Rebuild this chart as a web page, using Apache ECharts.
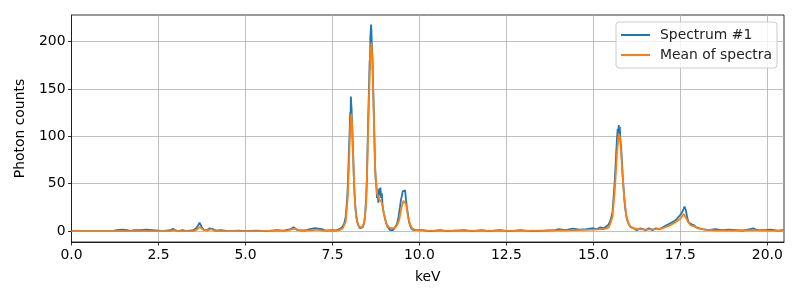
<!DOCTYPE html>
<html>
<head>
<meta charset="utf-8">
<script src="https://cdn.jsdelivr.net/npm/echarts@6/dist/echarts.min.js"></script>
<style>html,body{margin:0;padding:0;background:#fff}#c{width:800px;height:300px}</style>
</head>
<body>
<div id="c"></div>
<script>
const xTicks = [0, 2.5, 5, 7.5, 10, 12.5, 15, 17.5, 20];
const yTicks = [0, 50, 100, 150, 200];

const specKev = [0.0,0.45,0.46,0.47,1.1,1.15,1.2,1.3,1.35,1.45,1.5,1.6,1.7,1.8,1.85,2.0,2.05,2.15,2.2,2.5,2.6,2.85,2.92,2.98,3.05,3.2,3.3,3.5,3.58,3.64,3.68,3.72,3.76,3.82,3.9,3.97,4.02,4.07,4.15,4.3,4.5,4.8,5.0,5.3,5.6,5.9,6.1,6.3,6.38,6.43,6.5,6.7,6.85,6.9,7.0,7.05,7.2,7.3,7.5,7.6,7.7,7.78,7.84,7.88,7.92,7.95,7.97,7.99,8.01,8.02,8.03,8.04,8.05,8.06,8.07,8.08,8.10,8.12,8.14,8.16,8.18,8.21,8.25,8.29,8.33,8.37,8.41,8.44,8.47,8.49,8.51,8.53,8.55,8.57,8.58,8.59,8.60,8.61,8.62,8.63,8.64,8.65,8.66,8.68,8.70,8.72,8.74,8.76,8.78,8.80,8.82,8.84,8.86,8.88,8.90,8.92,8.94,8.97,9.0,9.04,9.08,9.12,9.16,9.2,9.24,9.28,9.32,9.36,9.40,9.44,9.47,9.50,9.52,9.55,9.57,9.59,9.61,9.64,9.67,9.70,9.74,9.78,9.85,9.9,10.1,10.3,10.6,10.8,11.0,11.3,11.5,11.8,12.0,12.3,12.6,12.9,13.2,13.6,13.9,14.0,14.2,14.4,14.6,14.8,15.0,15.1,15.2,15.3,15.38,15.44,15.5,15.55,15.58,15.61,15.64,15.66,15.68,15.70,15.72,15.73,15.75,15.76,15.78,15.80,15.82,15.84,15.87,15.90,15.93,15.97,16.02,16.08,16.15,16.25,16.35,16.5,16.6,16.7,16.8,16.9,17.0,17.1,17.2,17.3,17.38,17.45,17.52,17.58,17.62,17.66,17.70,17.74,17.78,17.84,17.9,17.96,18.05,18.15,18.3,18.5,18.7,18.9,19.1,19.3,19.5,19.6,19.7,19.9,20.1,20.3,20.47];
const specCounts = [0,0,1,0,0,1.5,0,1,0,1.5,0,1,0,1,0,1,0,1.5,0,0.5,0,1,2.5,1,0,1,0,1,3,6,9,7,3,1,1,3,4,2,0.5,1,0,0.5,0,0.5,0,1,0.5,2,4,3,1,0.5,2,1,3,1,2,0.5,1,0.5,2,4,8,15,32,55,80,100,125,115,142,135,130,118,120,95,78,50,38,25,18,10,6,3,2,4,8,18,35,55,90,120,150,180,170,205,210,218,212,200,190,185,165,140,110,75,55,50,35,40,30,45,38,46,35,40,28,20,15,9,5,3,1,2,1,2,5,8,15,25,33,38,42,44,40,43,35,25,18,10,5,2,1,0,1,0,1,0,0.5,1,0,1,0,1,0,1,0,0.5,1,2,1,2.5,1.5,2,3,2,4,3,5,7,12,20,35,50,70,85,98,108,104,112,100,110,95,88,75,60,45,30,20,12,7,4,3,1,3,1,3,1,3,2,4,6,8,10,12,15,18,22,26,22,14,9,8,7,6,4,3,2,1,2,1,1.5,1,0.5,2,3,1,1,1.5,0.5,1];

const meanKev = [0.0,1.2,2.85,2.95,3.05,3.5,3.6,3.69,3.78,3.9,4.01,4.12,4.5,5.5,6.2,6.4,6.55,6.9,7.05,7.2,7.5,7.7,7.8,7.88,7.94,7.98,8.01,8.04,8.07,8.10,8.14,8.18,8.24,8.30,8.36,8.42,8.47,8.51,8.55,8.59,8.62,8.65,8.69,8.73,8.78,8.84,8.88,8.92,8.98,9.05,9.12,9.2,9.28,9.36,9.42,9.48,9.54,9.58,9.62,9.67,9.73,9.8,9.9,10.1,11,12,13,14,14.5,15.0,15.3,15.45,15.55,15.62,15.68,15.73,15.77,15.82,15.88,15.95,16.05,16.2,16.5,16.8,17.0,17.2,17.35,17.5,17.6,17.65,17.72,17.8,17.9,18.0,18.2,18.5,19,19.6,20,20.47];
const meanCounts = [0,0,0,1,0,0,1.5,4.5,1.5,0.5,2,0.3,0,0.2,0.5,2.5,0.8,0.8,1.5,0.5,0.5,1,3,10,35,75,108,124,110,72,35,15,6,4,4.5,10,30,80,140,185,199,180,120,65,40,34,36,30,18,8,4,3,3.5,6,12,24,32,33,28,16,7,2.5,1,0.5,0.3,0.3,0.3,0.8,1,1.5,2,4,15,45,82,103,98,70,38,15,5,2.5,1.5,2,3,6,9,13,18,18,10,6,5,3,1.5,0.8,0.5,1,0.5,0.3];

const specData = specKev.map((k, i) => [k, specCounts[i]]);
const meanData = meanKev.map((k, i) => [k, meanCounts[i]]);

const font = 'DejaVu Sans';
const fs = 13.9;
const chart = echarts.init(document.getElementById('c'), null, {renderer: 'canvas'});
chart.setOption({
  animation: false,
  backgroundColor: '#fff',
  grid: {left: 71.5, right: 16, top: 15, bottom: 58, show: true, borderColor: '#000', borderWidth: 0.8, backgroundColor: 'transparent'},
  xAxis: {
    type: 'value', min: 0, max: 20.48, interval: 2.5,
    name: 'keV', nameLocation: 'middle', nameGap: 28,
    nameTextStyle: {fontFamily: font, fontSize: fs, color: '#000'},
    axisLine: {show: true, onZero: false, lineStyle: {color: '#000', width: 0.8}},
    axisTick: {show: true, length: 3.5, lineStyle: {color: '#000', width: 0.8}, customValues: xTicks},
    axisLabel: {fontFamily: font, fontSize: fs, color: '#000', margin: 6, customValues: xTicks, formatter: v => v.toFixed(1)},
    splitLine: {show: true, lineStyle: {color: '#b0b0b0', width: 0.8}}
  },
  yAxis: {
    type: 'value', min: -11.5, max: 228,
    name: 'Photon counts', nameLocation: 'middle', nameGap: 44,
    nameTextStyle: {fontFamily: font, fontSize: fs, color: '#000'},
    axisLine: {show: true, onZero: false, lineStyle: {color: '#000', width: 0.8}},
    axisTick: {show: true, length: 3.5, lineStyle: {color: '#000', width: 0.8}, customValues: yTicks},
    axisLabel: {fontFamily: font, fontSize: fs, color: '#000', margin: 6, customValues: yTicks},
    splitLine: {show: true, lineStyle: {color: '#b0b0b0', width: 0.8}}
  },
  legend: {
    orient: 'vertical', right: 23, top: 22,
    backgroundColor: 'rgba(255,255,255,0.8)', borderColor: '#cccccc', borderWidth: 1, borderRadius: 3,
    padding: [6, 5, 6, 5], itemGap: 6, itemWidth: 29, itemHeight: 2, icon: 'rect',
    textStyle: {fontFamily: font, fontSize: fs, color: '#222', padding: [0, 0, 0, 5]},
    data: ['Spectrum #1', 'Mean of spectra']
  },
  series: [
    {name: 'Spectrum #1', type: 'line', data: specData, showSymbol: false, symbol: 'none', lineStyle: {color: '#1f77b4', width: 1.8}, itemStyle: {color: '#1f77b4'}},
    {name: 'Mean of spectra', type: 'line', data: meanData, showSymbol: false, symbol: 'none', lineStyle: {color: '#ff7f0e', width: 1.8}, itemStyle: {color: '#ff7f0e'}}
  ]
});
</script>
</body>
</html>
